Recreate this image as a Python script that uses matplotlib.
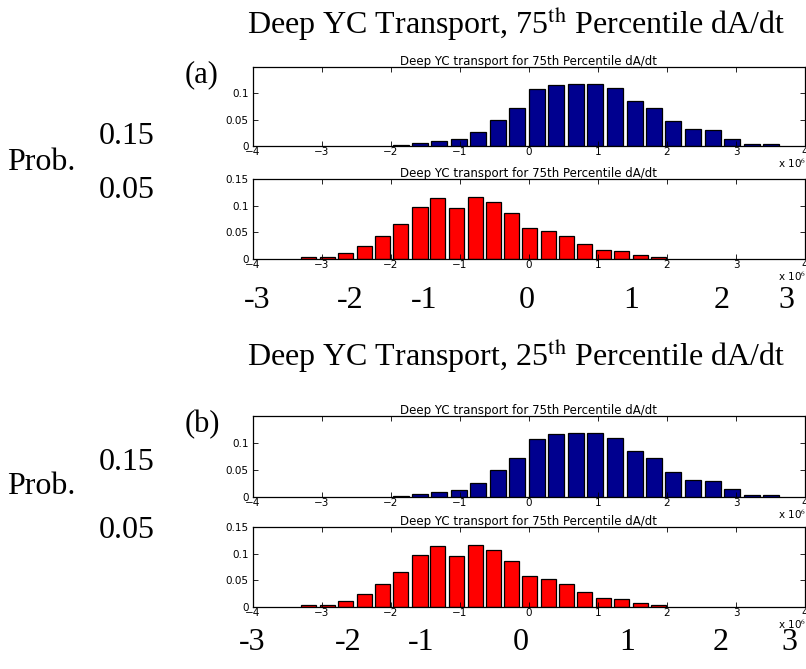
import numpy as np
import matplotlib
matplotlib.use("Agg")
import matplotlib.pyplot as plt

plt.rcParams['mathtext.fontset'] = 'stix'

# histogram bin centres (x 10^6) and probabilities
blue_centers = [-1.86, -1.58, -1.30, -1.02, -0.735, -0.452, -0.169, 0.114, 0.397, 0.68,
                0.963, 1.246, 1.53, 1.81, 2.09, 2.38, 2.66, 2.94, 3.23, 3.51]
blue_probs = [0.002, 0.006, 0.010, 0.0125, 0.026, 0.050, 0.073, 0.108, 0.116, 0.118,
              0.118, 0.110, 0.085, 0.073, 0.047, 0.032, 0.030, 0.014, 0.004, 0.004]

red_centers = [-3.19, -2.92, -2.66, -2.39, -2.12, -1.86, -1.58, -1.32, -1.05, -0.78,
               -0.52, -0.25, 0.013, 0.28, 0.54, 0.81, 1.08, 1.34, 1.61, 1.88]
red_probs = [0.0044, 0.004, 0.0114, 0.024, 0.044, 0.066, 0.097, 0.115, 0.095, 0.117,
             0.107, 0.087, 0.059, 0.052, 0.044, 0.029, 0.016, 0.0146, 0.007, 0.0044]

small_title = "Deep YC transport for 75th Percentile dA/dt"
big_titles = ["Deep YC Transport, 75$^{\\rm th}$ Percentile dA/dt",
              "Deep YC Transport, 25$^{\\rm th}$ Percentile dA/dt"]
panel_tags = ["(a)", "(b)"]
big_xlabels = ["-3", "-2", "-1", "0", "1", "2", "3"]
xticks = [-4, -3, -2, -1, 0, 1, 2, 3, 4]

W, H = 806, 669
fig = plt.figure(figsize=(W / 100, H / 100), dpi=100)
fig.patch.set_facecolor('white')

serif = 'Liberation Serif'
sans = 'DejaVu Sans'


def px(x, y):
    # pixel position (from top-left) -> figure fraction
    return x / W, 1 - y / H


def small_hist(top, bottom, centers, probs, color, yticks, ylabels):
    x0, x1 = 253, 805
    ax = fig.add_axes([x0 / W, 1 - bottom / H, (x1 - x0) / W, (bottom - top) / H])
    width = 0.82 * np.mean(np.diff(centers))
    ax.bar(centers, probs, width=width, color=color, edgecolor='black', linewidth=0.9)
    ax.set_xlim(-4, 4)
    ax.set_ylim(0, 0.15)
    ax.set_xticks(xticks)
    ax.set_xticklabels(["\u2212" + str(-t) if t < 0 else str(t) for t in xticks])
    ax.set_yticks(yticks)
    ax.set_yticklabels(ylabels)
    ax.tick_params(direction='in', length=3.5, width=0.6, labelsize=7.5,
                   top=True, right=True)
    ax.tick_params(axis='x', pad=1)
    ax.tick_params(axis='y', pad=3)
    for lab in ax.get_xticklabels() + ax.get_yticklabels():
        lab.set_family(sans)
    for s in ax.spines.values():
        s.set_linewidth(0.9)
    ax.set_title(small_title, fontsize=8.5, family=sans, pad=1.5)
    fig.text(*px(806, bottom + 17), "x 10$^6$", fontsize=7.5, family=sans,
             ha='right', va='center')
    return ax


# panel layout (pixel rows)
panels = [
    dict(title_y=24, tag_y=75, blue=(67, 146), red=(179, 259), labels_y=300,
         prob_y=162, p15_y=137, p05_y=190,
         label_x=[257, 350, 424, 527, 631, 722, 786]),
    dict(title_y=356, tag_y=425, blue=(416, 497), red=(527, 607), labels_y=643,
         prob_y=487, p15_y=462, p05_y=530,
         label_x=[252, 348, 421, 521, 627, 721, 789]),
]

for i, p in enumerate(panels):
    fig.text(*px(516, p['title_y']), big_titles[i], fontsize=23, family=serif,
             ha='center', va='center')
    fig.text(*px(202, p['tag_y']), panel_tags[i], fontsize=22, family=serif,
             ha='center', va='center')
    small_hist(p['blue'][0], p['blue'][1], blue_centers, blue_probs, (0, 0, 0.56),
               [0, 0.05, 0.1], ["0", "0.05", "0.1"])
    small_hist(p['red'][0], p['red'][1], red_centers, red_probs, (1, 0, 0),
               [0, 0.05, 0.1, 0.15], ["0", "0.05", "0.1", "0.15"])
    fig.text(*px(41, p['prob_y']), "Prob.", fontsize=23, family=serif,
             ha='center', va='center')
    fig.text(*px(127, p['p15_y']), "0.15", fontsize=23, family=serif,
             ha='center', va='center')
    fig.text(*px(127, p['p05_y']), "0.05", fontsize=23, family=serif,
             ha='center', va='center')
    for xl, lab in zip(p['label_x'], big_xlabels):
        fig.text(*px(xl, p['labels_y']), lab, fontsize=23, family=serif,
                 ha='center', va='center')

fig.savefig("out.png", dpi=100)
